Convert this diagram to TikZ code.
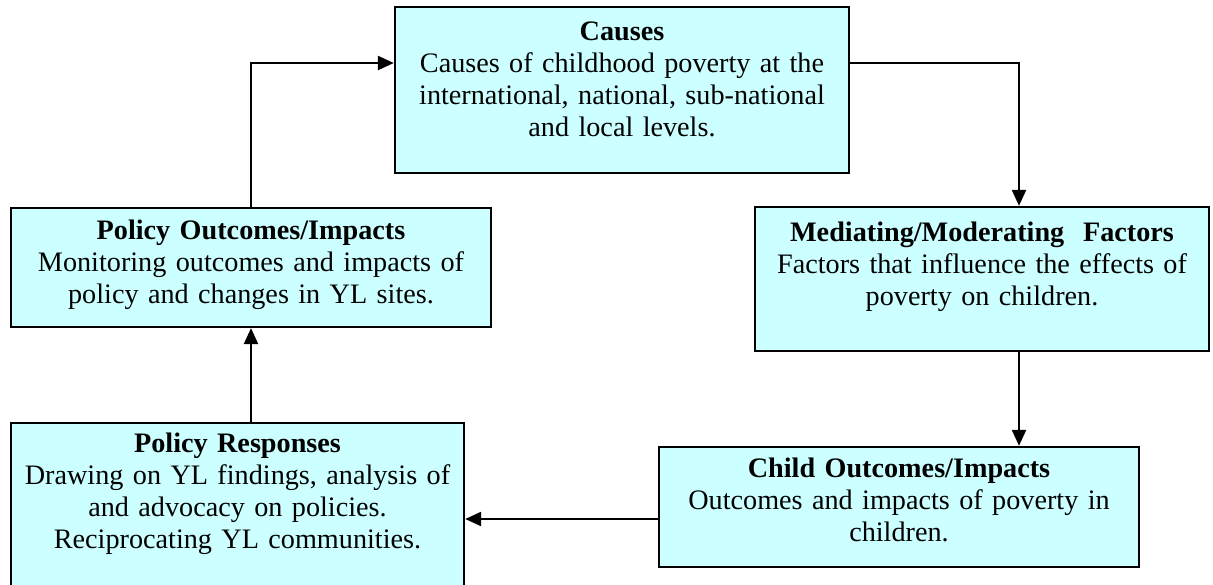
\documentclass[tikz,border=0pt]{standalone}
\usepackage{fontspec}
\setmainfont{Liberation Serif}
\usepackage{xcolor}
\usetikzlibrary{arrows.meta}
\definecolor{paleCyan}{RGB}{204,255,255}

\begin{document}
\begin{tikzpicture}[x=0.4255pt,y=-0.4255pt,
	blk/.style={draw,line width=1pt,fill=paleCyan,inner sep=0pt},
	txt/.style={anchor=north,align=center,inner sep=0pt,font=\fontsize{12}{13.6}\selectfont},
	arr/.style={line width=0.85pt,-{Triangle[length=6.8pt,width=6pt]}}]
	\useasboundingbox (0,0) rectangle (1213,584);
	% boxes
	\node [blk,minimum width=193.2pt,minimum height=70.6pt] (causes) at (622,90) {};
	\node [blk,minimum width=204.2pt,minimum height=50.6pt] (polout) at (251,267.5) {};
	\node [blk,minimum width=193.2pt,minimum height=61.3pt] (mediat) at (982,279) {};
	\node [blk,minimum width=204.2pt,minimum height=51.1pt] (childout) at (899,507) {};
	\node [blk,minimum width=192.8pt,minimum height=71pt] (polresp) at (237.5,506.5) {};
	% texts
	\node [txt,text width=190pt] (causestxt) at ([yshift=-6.5pt]causes.north)
		{\textbf{Causes}\\Causes of childhood poverty at the\\international, national, sub-national\\and local levels.};
	\node [txt,text width=200pt] (polouttxt) at ([yshift=-5.5pt]polout.north)
		{\textbf{Policy Outcomes/Impacts}\\Monitoring outcomes and impacts of\\policy and changes in YL sites.};
	\node [txt,text width=190pt] (mediattxt) at ([yshift=-6.5pt]mediat.north)
		{\textbf{Mediating/Moderating\ \ Factors}\\Factors that influence the effects of\\poverty on children.};
	\node [txt,text width=200pt] (childouttxt) at ([yshift=-5pt]childout.north)
		{\textbf{Child Outcomes/Impacts}\\Outcomes and impacts of poverty in\\children.};
	\node [txt,text width=190pt] (polresptxt) at ([yshift=-4.5pt]polresp.north)
		{\textbf{Policy Responses}\\Drawing on YL findings, analysis of\\and advocacy on policies.\\Reciprocating YL communities.};
	% connectors
	\coordinate (top) at (1019,63);
	\coordinate (low) at (560,519);
	\draw [arr] (causes.east |- top) -- (top) -- (top |- mediat.north);
	\draw [arr] (top |- mediat.south) -- (top |- childout.north);
	\draw [arr] (childout.west |- low) -- (polresp.east |- low);
	\draw [arr] (polresp.north -| polout.south) -- (polout.south);
	\draw [arr] (polout.north) |- (causes.west |- top);
\end{tikzpicture}
\end{document}
